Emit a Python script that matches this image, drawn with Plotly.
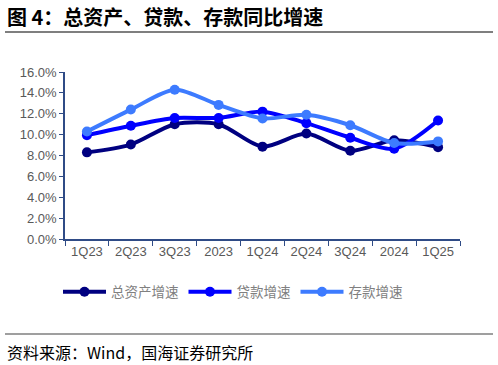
import plotly.graph_objects as go

categories = ["1Q23", "2Q23", "3Q23", "2023", "1Q24", "2Q24", "3Q24", "2024", "1Q25"]
total_assets = [8.3, 9.05, 11.0, 11.0, 8.85, 10.1, 8.45, 9.45, 8.8]
loans = [9.95, 10.85, 11.6, 11.6, 12.2, 11.1, 9.7, 8.65, 11.35]
deposits = [10.3, 12.4, 14.3, 12.85, 11.55, 11.9, 10.9, 9.2, 9.35]
series_names = ["总资产增速", "贷款增速", "存款增速"]
series_colors = ["#000080", "#0000FF", "#3D7BFF"]
y_ticks = [0, 2, 4, 6, 8, 10, 12, 14, 16]
y_tick_labels = ["%.1f%%" % v for v in y_ticks]

W, H = 498, 365
L, R, T, B = 65, 38, 72, 126
pw, ph = W - L - R, H - T - B

def px(x):
    return (x - L) / pw

def py(y):
    return (H - B - y) / ph

fig = go.Figure()
for name, vals, col in zip(series_names, [total_assets, loans, deposits], series_colors):
    fig.add_trace(go.Scatter(
        x=categories, y=vals, name=name, mode="lines+markers",
        line=dict(color=col, width=4, shape="spline", smoothing=0.8),
        marker=dict(color=col, size=10),
    ))

axis_col = "#2F4B86"
fig.update_layout(
    width=W, height=H,
    margin=dict(l=L, r=R, t=T, b=B),
    plot_bgcolor="white", paper_bgcolor="white",
    font=dict(family="Arial, Liberation Sans, sans-serif", color="#595959", size=13),
    xaxis=dict(
        type="category", showgrid=False, showline=True, linecolor=axis_col, linewidth=1.5,
        ticks="outside", tickcolor=axis_col, ticklen=5, tickson="boundaries",
        tickfont=dict(size=13, color="#595959"), range=[-0.5, 8.5],
    ),
    yaxis=dict(
        range=[0, 16], tickvals=y_ticks, ticktext=y_tick_labels, showgrid=False,
        showline=True, linecolor=axis_col, linewidth=1.5, ticks="outside",
        tickcolor=axis_col, ticklen=4, tickfont=dict(size=13, color="#595959"),
        zeroline=False,
    ),
    showlegend=True,
    legend=dict(
        orientation="h", x=px(58), xanchor="left", y=py(292), yanchor="middle",
        font=dict(family="Noto Sans CJK SC", size=13.5, color="#808080"),
        itemwidth=43, traceorder="normal",
        bgcolor="rgba(0,0,0,0)",
    ),
    annotations=[
        dict(text="<b>图 4：总资产、贷款、存款同比增速</b>", xref="paper", yref="paper",
             x=px(5), y=py(17), xanchor="left", yanchor="middle", showarrow=False,
             font=dict(family="Noto Sans CJK SC", size=20, color="#000000")),
        dict(text="资料来源：Wind，国海证券研究所", xref="paper", yref="paper",
             x=px(5), y=py(352), xanchor="left", yanchor="middle", showarrow=False,
             font=dict(family="Noto Sans CJK SC", size=16, color="#000000")),
    ],
    shapes=[
        dict(type="line", xref="paper", yref="paper", x0=px(5), x1=px(493),
             y0=py(32), y1=py(32), line=dict(color="#7F7F7F", width=2)),
        dict(type="line", xref="paper", yref="paper", x0=px(5), x1=px(493),
             y0=py(334), y1=py(334), line=dict(color="#7F7F7F", width=1.5)),
    ],
)

fig.write_html("out.html")
